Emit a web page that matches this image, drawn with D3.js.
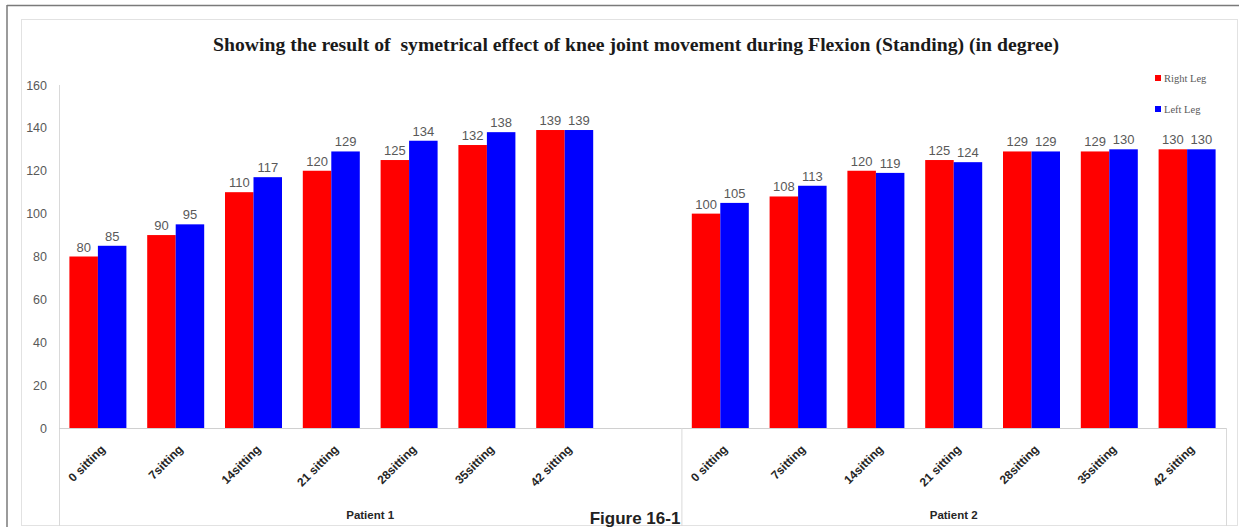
<!DOCTYPE html>
<html>
<head>
<meta charset="utf-8">
<script src="https://cdn.jsdelivr.net/npm/d3@7/dist/d3.min.js"></script>
<style>
  html, body { margin: 0; padding: 0; background: #fff; }
  svg { display: block; }
  .title { white-space: pre; }
</style>
</head>
<body>
<svg id="chart" width="1239" height="527"></svg>
<script>
// Knee flexion (standing) in degrees, per sitting, for two patients
const patients = ["Patient 1", "Patient 2"];
const sittings1 = ["0 sitting", "7sitting", "14sitting", "21 sitting", "28sitting", "35sitting", "42 sitting"];
const sittings2 = ["0 sitting", "7sitting", "14sitting", "21 sitting", "28sitting", "35sitting", "42 sitting"];
const rightLeg1 = [80, 90, 110, 120, 125, 132, 139];
const leftLeg1  = [85, 95, 117, 129, 134, 138, 139];
const rightLeg2 = [100, 108, 120, 125, 129, 129, 130];
const leftLeg2  = [105, 113, 119, 124, 129, 130, 130];
const seriesNames = ["Right Leg", "Left Leg"];
const yTicks = [0, 20, 40, 60, 80, 100, 120, 140, 160];

const colors = { "Right Leg": "#ff0000", "Left Leg": "#0000ff" };

// Slots along the category axis: patient 1 has one trailing empty slot
const slots = [];
sittings1.forEach((s, i) => slots.push({ key: "p1-" + i, patient: 0, label: s, values: [rightLeg1[i], leftLeg1[i]] }));
slots.push({ key: "p1-gap", patient: 0, label: "", values: null });
sittings2.forEach((s, i) => slots.push({ key: "p2-" + i, patient: 1, label: s, values: [rightLeg2[i], leftLeg2[i]] }));

const svg = d3.select("#chart");
const W = 1239, H = 527;
const plot = { left: 59, right: 1226, top: 85, bottom: 428 };

// Frame
svg.append("line").attr("x1", 7).attr("x2", W).attr("y1", 5.5).attr("y2", 5.5)
  .attr("stroke", "#7a7a7a").attr("stroke-width", 1.5);
svg.append("line").attr("x1", 7).attr("x2", 7).attr("y1", 5).attr("y2", H)
  .attr("stroke", "#7a7a7a").attr("stroke-width", 1.5);
svg.append("rect").attr("x", 21.5).attr("y", 19.5).attr("width", 1216).attr("height", 506)
  .attr("fill", "none").attr("stroke", "#e2e2e2").attr("stroke-width", 1);

const x0 = d3.scaleBand().domain(slots.map(d => d.key)).range([plot.left, plot.right]);
const x1 = d3.scaleBand().domain(seriesNames).range([0, x0.step()]).paddingInner(0).paddingOuter(0.365);
const y = d3.scaleLinear().domain([0, 160]).range([plot.bottom, plot.top]);

// Title
svg.append("text")
  .attr("class", "title")
  .attr("x", 636).attr("y", 51)
  .attr("text-anchor", "middle")
  .attr("font-family", "Liberation Serif, serif")
  .attr("font-weight", "bold")
  .attr("font-size", 18)
  .attr("fill", "#1a1a1a")
  .attr("textLength", 846)
  .attr("lengthAdjust", "spacingAndGlyphs")
  .text("Showing the result of  symetrical effect of knee joint movement during Flexion (Standing) (in degree)");

// Y axis (labels only, light axis line)
const yAxis = d3.axisLeft(y).tickValues(yTicks).tickSize(0).tickPadding(12);
const gy = svg.append("g").attr("transform", `translate(${plot.left},0)`).call(yAxis);
gy.select(".domain").remove();
gy.selectAll("text")
  .attr("font-family", "Liberation Sans, Arial, sans-serif")
  .attr("font-size", 12.5)
  .attr("fill", "#595959");
svg.append("line").attr("x1", plot.left + 0.5).attr("x2", plot.left + 0.5)
  .attr("y1", plot.top).attr("y2", 526).attr("stroke", "#d9d9d9");

// Category axis line and group separators
svg.append("line").attr("x1", plot.left).attr("x2", plot.right)
  .attr("y1", plot.bottom + 0.5).attr("y2", plot.bottom + 0.5).attr("stroke", "#d0d0d0");
[x0("p2-0"), plot.right].forEach(xx => {
  svg.append("line").attr("x1", xx + 0.5).attr("x2", xx + 0.5)
    .attr("y1", plot.bottom).attr("y2", 526).attr("stroke", "#d9d9d9");
});

// Bars
const dataSlots = slots.filter(d => d.values);
const groups = svg.append("g").selectAll("g").data(dataSlots).join("g")
  .attr("transform", d => `translate(${x0(d.key)},0)`);

const cells = d => seriesNames.map((s, i) => ({ series: s, value: d.values[i] }));

groups.selectAll("rect").data(cells).join("rect")
  .attr("x", d => x1(d.series))
  .attr("y", d => y(d.value))
  .attr("width", x1.bandwidth())
  .attr("height", d => y(0) - y(d.value))
  .attr("fill", d => colors[d.series]);

// Value labels
groups.selectAll("text.val").data(cells).join("text")
  .attr("class", "val")
  .attr("x", d => x1(d.series) + x1.bandwidth() / 2)
  .attr("y", d => y(d.value) - 5)
  .attr("text-anchor", "middle")
  .attr("font-family", "Liberation Sans, Arial, sans-serif")
  .attr("font-size", 13)
  .attr("fill", "#595959")
  .text(d => d.value);

// Rotated category labels
dataSlots.forEach(d => {
  const cx = x0(d.key) + x0.bandwidth() / 2 + 5;
  const cy = plot.bottom + 19;
  svg.append("text")
    .attr("transform", `translate(${cx},${cy}) rotate(-45)`)
    .attr("text-anchor", "end")
    .attr("dy", "0.35em")
    .attr("font-family", "Liberation Sans, Arial, sans-serif")
    .attr("font-weight", "bold")
    .attr("font-size", 12)
    .attr("fill", "#262626")
    .text(d.label);
});

// Patient group labels
patients.forEach((p, i) => {
  const inGroup = slots.filter(s => s.patient === i);
  const a = x0(inGroup[0].key);
  const b = x0(inGroup[inGroup.length - 1].key) + x0.step();
  svg.append("text")
    .attr("x", (a + b) / 2).attr("y", 519)
    .attr("text-anchor", "middle")
    .attr("font-family", "Liberation Sans, Arial, sans-serif")
    .attr("font-weight", "bold")
    .attr("font-size", 11.5)
    .attr("fill", "#262626")
    .text(p);
});

// Legend
seriesNames.forEach((s, i) => {
  const ly = 78 + i * 31;
  svg.append("rect").attr("x", 1155).attr("y", ly - 3).attr("width", 6).attr("height", 6)
    .attr("fill", colors[s]);
  svg.append("text").attr("x", 1164).attr("y", ly + 3.5)
    .attr("font-family", "Liberation Serif, serif")
    .attr("font-size", 10.5)
    .attr("fill", "#595959")
    .text(s);
});

// Figure caption
svg.append("text")
  .attr("x", 635).attr("y", 524)
  .attr("text-anchor", "middle")
  .attr("font-family", "Liberation Sans, Arial, sans-serif")
  .attr("font-weight", "bold")
  .attr("font-size", 17)
  .attr("fill", "#222")
  .text("Figure 16-1");
</script>
</body>
</html>
